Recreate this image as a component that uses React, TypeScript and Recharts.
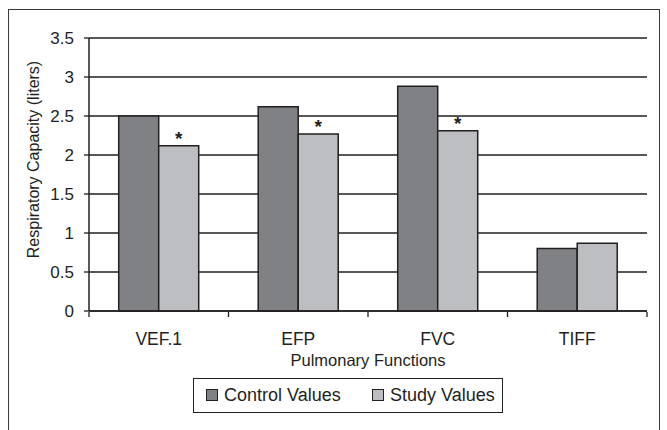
import React from 'react';
import { BarChart, Bar, XAxis, YAxis, CartesianGrid, LabelList } from 'recharts';

const categories = ['VEF.1', 'EFP', 'FVC', 'TIFF'];
const controlValues = [2.5, 2.62, 2.88, 0.8];
const studyValues = [2.12, 2.27, 2.31, 0.87];
const significant = [true, true, true, false];
const seriesNames = ['Control Values', 'Study Values'];
const yTicks = [0, 0.5, 1, 1.5, 2, 2.5, 3, 3.5];
const boundaryTicks = [0, 1, 2, 3, 4];
const xTitle = 'Pulmonary Functions';
const yTitle = 'Respiratory Capacity (liters)';

const data = categories.map((c, i) => ({
  name: c,
  control: controlValues[i],
  study: studyValues[i],
  pos: i,
}));

const FONT = '"Liberation Sans", Arial, sans-serif';
const INK = '#231f20';
const DARK = '#808184';
const LIGHT = '#bdbec2';

const StarLabel = (props: any) => {
  const { x, y, width, index } = props;
  if (!significant[index]) return null;
  return (
    <text x={x + width / 2} y={y - 1} textAnchor="middle" fontSize={19} fontWeight="bold" fontFamily={FONT} fill={INK}>
      *
    </text>
  );
};

export default function App() {
  return (
    <div style={{ position: 'absolute', left: 0, top: 0, width: 667, height: 430, overflow: 'hidden', background: '#fff', fontFamily: FONT }}>
      <div style={{ position: 'absolute', left: 8, top: 9, width: 652, height: 440, border: '1.5px solid #3a3a3a', boxSizing: 'border-box' }} />
      <div style={{ position: 'absolute', left: 0, top: 0 }}>
        <BarChart
          width={667}
          height={430}
          data={data}
          margin={{ top: 38, right: 20, left: 0, bottom: 78 }}
          barCategoryGap="21.3%"
          barGap={0}
        >
          <CartesianGrid vertical={false} stroke={INK} strokeWidth={1.3} />
          <XAxis
            dataKey="name"
            height={1}
            axisLine={{ stroke: INK, strokeWidth: 1.5 }}
            tickLine={false}
            tickSize={0}
            tickMargin={22}
            tick={{ fontSize: 17.5, fill: INK, fontFamily: FONT }}
            label={(p: any) => {
              const vb = p.viewBox;
              return (
                <text x={vb.x + vb.width / 2} y={vb.y + 55} textAnchor="middle" fontSize={16.5} fontFamily={FONT} fill={INK}>
                  {xTitle}
                </text>
              );
            }}
          />
          <XAxis
            xAxisId="b"
            dataKey="pos"
            type="number"
            domain={[0, 4]}
            ticks={boundaryTicks}
            allowDataOverflow
            height={40}
            axisLine={false}
            tickLine={{ stroke: INK, strokeWidth: 1.3 }}
            tickSize={5}
            tickFormatter={() => ''}
          />
          <YAxis
            width={89}
            domain={[0, 3.5]}
            ticks={yTicks}
            interval={0}
            axisLine={{ stroke: INK, strokeWidth: 1.5 }}
            tickLine={{ stroke: INK, strokeWidth: 1.3 }}
            tickSize={5}
            tickMargin={10}
            tick={{ fontSize: 17, fill: INK, fontFamily: FONT }}
            label={(p: any) => {
              const vb = p.viewBox;
              const cx = vb.x + 33;
              const cy = vb.y + vb.height / 2 - 15;
              return (
                <text x={cx} y={cy} transform={`rotate(-90 ${cx} ${cy})`} textAnchor="middle" dominantBaseline="central" fontSize={16} fontFamily={FONT} fill={INK}>
                  {yTitle}
                </text>
              );
            }}
          />
          <Bar dataKey="control" name={seriesNames[0]} fill={DARK} stroke={INK} strokeWidth={1.5} isAnimationActive={false} />
          <Bar dataKey="study" name={seriesNames[1]} fill={LIGHT} stroke={INK} strokeWidth={1.5} isAnimationActive={false}>
            <LabelList dataKey="study" content={StarLabel} />
          </Bar>
        </BarChart>
      </div>
      <div style={{ position: 'absolute', left: 193, top: 378, width: 310, height: 35, border: `1.5px solid ${INK}`, boxSizing: 'border-box', background: '#fff' }}>
        {seriesNames.map((n, i) => (
          <div key={n} style={{ position: 'absolute', left: i === 0 ? 12 : 178, top: 0, height: 32, display: 'flex', alignItems: 'center', fontSize: 18, color: INK, whiteSpace: 'nowrap' }}>
            <span style={{ display: 'inline-block', width: 10, height: 10, background: i === 0 ? DARK : LIGHT, border: `1px solid ${INK}`, marginRight: 6 }} />
            {n}
          </div>
        ))}
      </div>
    </div>
  );
}
